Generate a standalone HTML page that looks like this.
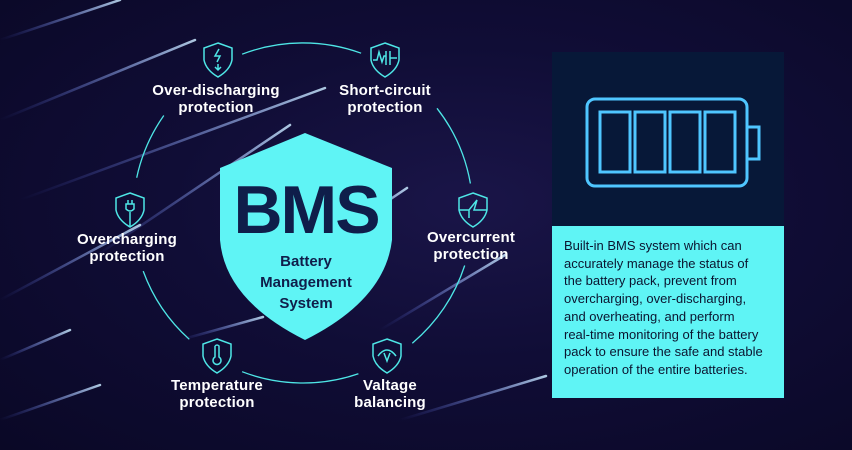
<!DOCTYPE html>
<html><head><style>
html,body{margin:0;padding:0}
body{width:852px;height:450px;overflow:hidden;position:relative;background:radial-gradient(ellipse at 55% 45%,#1a1548 0%,#100d36 45%,#0a0826 100%);font-family:"Liberation Sans",sans-serif}
.lbl{position:absolute;color:#fff;font-size:15px;font-weight:bold;text-align:center;line-height:17px;width:160px;letter-spacing:0.2px}
</style></head><body>
<svg width="852" height="450" style="position:absolute;left:0;top:0">
<defs>
<linearGradient id="st" x1="0" y1="1" x2="1" y2="0"><stop offset="0" stop-color="#5a6cff" stop-opacity="0"/><stop offset="1" stop-color="#c8e8ff" stop-opacity="0.85"/></linearGradient>
</defs>
<g stroke="url(#st)" stroke-width="2.5" stroke-linecap="round">
<line x1="0" y1="120" x2="195" y2="40"/>
<line x1="20" y1="200" x2="325" y2="88"/>
<line x1="90" y1="260" x2="290" y2="125"/>
<line x1="0" y1="300" x2="140" y2="225"/>
<line x1="300" y1="260" x2="407" y2="188"/>
<line x1="380" y1="330" x2="505" y2="255"/>
<line x1="400" y1="420" x2="546" y2="376"/>
<line x1="0" y1="360" x2="70" y2="330"/>
<line x1="0" y1="420" x2="100" y2="385"/>
<line x1="180" y1="340" x2="263" y2="317"/>
<line x1="0" y1="40" x2="120" y2="0"/>
</g>
<g fill="none" stroke="#4ee6e6" stroke-width="1.3">
<path d="M242.1 54.2 A170 170 0 0 1 361.1 53.2"/>
<path d="M437 108.3 A170 170 0 0 1 470.4 183.5"/>
<path d="M464.7 265.5 A170 170 0 0 1 412.3 343.2"/>
<path d="M358.4 373.8 A170 170 0 0 1 242.1 371.7"/>
<path d="M189.3 339.3 A170 170 0 0 1 143.2 271.1"/>
<path d="M136.7 177.7 A170 170 0 0 1 163.8 115.5"/>
</g>
<path d="M305 133 L392 168 L392 240 Q385 300 305 340 Q225 300 220 240 L220 168 Z" fill="#5ff4f5"/>
<text x="306" y="233" font-family="Liberation Sans" font-weight="bold" font-size="68" fill="#0f1e4a" text-anchor="middle" letter-spacing="-2">BMS</text>
<g font-family="Liberation Sans" font-weight="bold" font-size="15" fill="#0f1e4a" text-anchor="middle">
<text x="306" y="266">Battery</text><text x="306" y="287">Management</text><text x="306" y="308">System</text>
</g>
<g fill="none" stroke="#4ee6e6" stroke-width="1.5">
<g transform="translate(218,58)"><path d="M0 -15 L14 -10 L14 2 Q12 12 0 19 Q-12 12 -14 2 L-14 -10 Z"/><path d="M1 -9 L-3 -2 L2 -2 L-1 4"/><path d="M0 6 L0 12 M-3 9 L0 12 L3 9"/></g>
<g transform="translate(385,58)"><path d="M0 -15 L14 -10 L14 2 Q12 12 0 19 Q-12 12 -14 2 L-14 -10 Z"/><path d="M-12 2 L-8 2 L-6 -6 L-3 4 L-1 -2 L1 -2 M1 -7 L1 7 M5 -7 L5 7 M5 0 L12 0"/></g>
<g transform="translate(473,208)"><path d="M0 -15 L14 -10 L14 2 Q12 12 0 19 Q-12 12 -14 2 L-14 -10 Z"/><path d="M-14 2 L-4 2 L4 -8 L1 2 L14 2 M-4 2 L-4 10"/></g>
<g transform="translate(130,208)"><path d="M0 -15 L14 -10 L14 2 Q12 12 0 19 Q-12 12 -14 2 L-14 -10 Z"/><path d="M-2 -8 L-2 -4 M2 -8 L2 -4 M-4 -4 L4 -4 L4 1 Q0 5 -4 1 Z M0 4 L0 19"/></g>
<g transform="translate(217,354)"><path d="M0 -15 L14 -10 L14 2 Q12 12 0 19 Q-12 12 -14 2 L-14 -10 Z"/><path d="M-2 -8 L-2 3 A4 4 0 1 0 2 3 L2 -8 Q0 -10 -2 -8"/></g>
<g transform="translate(387,354)"><path d="M0 -15 L14 -10 L14 2 Q12 12 0 19 Q-12 12 -14 2 L-14 -10 Z"/><path d="M-9 2 Q0 -10 9 2 M-3 -1 L0 7 L3 -1"/></g>
</g>
<rect x="552" y="52" width="232" height="174" fill="#071838"/>
<g fill="none" stroke="#4fc6ff" stroke-width="3">
<rect x="587" y="99" width="160" height="87" rx="8"/>
<rect x="600" y="112" width="30" height="60"/><rect x="635" y="112" width="30" height="60"/>
<rect x="670" y="112" width="30" height="60"/><rect x="705" y="112" width="30" height="60"/>
<rect x="747" y="127" width="12" height="32"/>
</g>
<rect x="552" y="226" width="232" height="172" fill="#5ff4f5"/>
</svg>
<div class="lbl" style="left:136px;top:82px">Over-discharging<br>protection</div>
<div class="lbl" style="left:305px;top:82px">Short-circuit<br>protection</div>
<div class="lbl" style="left:391px;top:229px">Overcurrent<br>protection</div>
<div class="lbl" style="left:47px;top:231px">Overcharging<br>protection</div>
<div class="lbl" style="left:137px;top:377px">Temperature<br>protection</div>
<div class="lbl" style="left:310px;top:377px">Valtage<br>balancing</div>
<div style="position:absolute;left:564px;top:237px;width:218px;font-size:13px;line-height:17.7px;color:#0b1530;white-space:nowrap">Built-in BMS system which can<br>accurately manage the status of<br>the battery pack, prevent from<br>overcharging, over-discharging,<br>and overheating, and perform<br>real-time monitoring of the battery<br>pack to ensure the safe and stable<br>operation of the entire batteries.</div>
</body></html>
